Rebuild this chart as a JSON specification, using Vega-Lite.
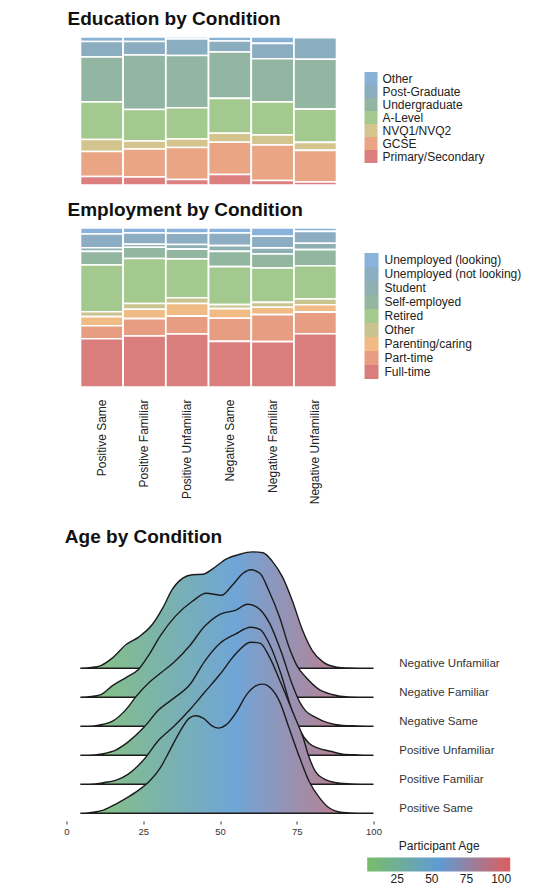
{
  "$schema": "https://vega.github.io/schema/vega-lite/v6.json",
  "background": "white",
  "padding": {"left": 63.5, "top": 10, "right": 0, "bottom": 0},
  "config": {
    "view": {"stroke": null},
    "font": "Liberation Sans",
    "title": {"color": "#111111", "fontWeight": "bold", "fontSize": 19, "anchor": "start"}
  },
  "resolve": {"scale": {"color": "independent"}, "legend": {"color": "independent"}},
  "spacing": 24,
  "vconcat": [
    {
      "spacing": 15,
      "resolve": {"scale": {"color": "independent"}, "legend": {"color": "independent"}},
      "vconcat": [
        {
          "title": {"text": "Education by Condition", "offset": 7, "dx": 1},
          "width": 270,
          "height": 148,
          "data": {"values": [
            {"condition": "Positive Same", "level": "Other", "pct": 3.0},
            {"condition": "Positive Same", "level": "Post-Graduate", "pct": 10.5},
            {"condition": "Positive Same", "level": "Undergraduate", "pct": 30.4},
            {"condition": "Positive Same", "level": "A-Level", "pct": 25.3},
            {"condition": "Positive Same", "level": "NVQ1/NVQ2", "pct": 8.1},
            {"condition": "Positive Same", "level": "GCSE", "pct": 16.9},
            {"condition": "Positive Same", "level": "Primary/Secondary", "pct": 5.7},
            {"condition": "Positive Familiar", "level": "Other", "pct": 3.0},
            {"condition": "Positive Familiar", "level": "Post-Graduate", "pct": 9.1},
            {"condition": "Positive Familiar", "level": "Undergraduate", "pct": 36.8},
            {"condition": "Positive Familiar", "level": "A-Level", "pct": 21.3},
            {"condition": "Positive Familiar", "level": "NVQ1/NVQ2", "pct": 5.4},
            {"condition": "Positive Familiar", "level": "GCSE", "pct": 18.9},
            {"condition": "Positive Familiar", "level": "Primary/Secondary", "pct": 5.4},
            {"condition": "Positive Unfamiliar", "level": "Other", "pct": 1.4},
            {"condition": "Positive Unfamiliar", "level": "Post-Graduate", "pct": 11.1},
            {"condition": "Positive Unfamiliar", "level": "Undergraduate", "pct": 35.3},
            {"condition": "Positive Unfamiliar", "level": "A-Level", "pct": 21.1},
            {"condition": "Positive Unfamiliar", "level": "NVQ1/NVQ2", "pct": 5.7},
            {"condition": "Positive Unfamiliar", "level": "GCSE", "pct": 21.6},
            {"condition": "Positive Unfamiliar", "level": "Primary/Secondary", "pct": 3.7},
            {"condition": "Negative Same", "level": "Other", "pct": 2.7},
            {"condition": "Negative Same", "level": "Post-Graduate", "pct": 7.4},
            {"condition": "Negative Same", "level": "Undergraduate", "pct": 31.4},
            {"condition": "Negative Same", "level": "A-Level", "pct": 23.5},
            {"condition": "Negative Same", "level": "NVQ1/NVQ2", "pct": 6.1},
            {"condition": "Negative Same", "level": "GCSE", "pct": 21.8},
            {"condition": "Negative Same", "level": "Primary/Secondary", "pct": 7.1},
            {"condition": "Negative Familiar", "level": "Other", "pct": 4.3},
            {"condition": "Negative Familiar", "level": "Post-Graduate", "pct": 10.4},
            {"condition": "Negative Familiar", "level": "Undergraduate", "pct": 29.1},
            {"condition": "Negative Familiar", "level": "A-Level", "pct": 22.4},
            {"condition": "Negative Familiar", "level": "NVQ1/NVQ2", "pct": 6.6},
            {"condition": "Negative Familiar", "level": "GCSE", "pct": 24.1},
            {"condition": "Negative Familiar", "level": "Primary/Secondary", "pct": 3.0},
            {"condition": "Negative Unfamiliar", "level": "Other", "pct": 0.5},
            {"condition": "Negative Unfamiliar", "level": "Post-Graduate", "pct": 14.5},
            {"condition": "Negative Unfamiliar", "level": "Undergraduate", "pct": 33.6},
            {"condition": "Negative Unfamiliar", "level": "A-Level", "pct": 22.4},
            {"condition": "Negative Unfamiliar", "level": "NVQ1/NVQ2", "pct": 5.4},
            {"condition": "Negative Unfamiliar", "level": "GCSE", "pct": 21.3},
            {"condition": "Negative Unfamiliar", "level": "Primary/Secondary", "pct": 2.0}
          ]},
          "transform": [
            {"calculate": "indexof(['Primary/Secondary','GCSE','NVQ1/NVQ2','A-Level','Undergraduate','Post-Graduate','Other'], datum.level)", "as": "ord"}
          ],
          "mark": {"type": "bar", "stroke": "white", "strokeWidth": 1.6},
          "encoding": {
            "x": {"field": "condition", "type": "nominal",
                  "sort": ["Positive Same", "Positive Familiar", "Positive Unfamiliar", "Negative Same", "Negative Familiar", "Negative Unfamiliar"],
                  "axis": null,
                  "scale": {"paddingInner": 0.005, "paddingOuter": 0.164, "align": 1}},
            "y": {"field": "pct", "type": "quantitative", "stack": "normalize", "axis": null},
            "order": {"field": "ord", "type": "quantitative"},
            "color": {"field": "level", "type": "nominal",
                      "scale": {"domain": ["Other", "Post-Graduate", "Undergraduate", "A-Level", "NVQ1/NVQ2", "GCSE", "Primary/Secondary"],
                                "range": ["#89b1d6", "#8badc0", "#93b6a3", "#a4c98f", "#d4c48d", "#eaa584", "#dd7f7f"]},
                      "legend": {"title": null, "orient": "none", "legendX": 298, "legendY": 35, "symbolType": "square", "symbolSize": 169, "symbolStrokeWidth": 0, "symbolOpacity": 1, "rowPadding": 0, "labelFontSize": 12, "labelColor": "#222222", "labelOffset": 5}}
          }
        },
        {
          "title": {"text": "Employment by Condition", "offset": 7, "dx": 1},
          "width": 270,
          "height": 159,
          "data": {"values": [
            {"condition": "Positive Same", "status": "Unemployed (looking)", "pct": 3.8},
            {"condition": "Positive Same", "status": "Unemployed (not looking)", "pct": 8.6},
            {"condition": "Positive Same", "status": "Student", "pct": 2.3},
            {"condition": "Positive Same", "status": "Self-employed", "pct": 8.6},
            {"condition": "Positive Same", "status": "Retired", "pct": 29.4},
            {"condition": "Positive Same", "status": "Other", "pct": 3.1},
            {"condition": "Positive Same", "status": "Parenting/caring", "pct": 5.7},
            {"condition": "Positive Same", "status": "Part-time", "pct": 8.2},
            {"condition": "Positive Same", "status": "Full-time", "pct": 30.4},
            {"condition": "Positive Familiar", "status": "Unemployed (looking)", "pct": 3.1},
            {"condition": "Positive Familiar", "status": "Unemployed (not looking)", "pct": 7.1},
            {"condition": "Positive Familiar", "status": "Student", "pct": 1.9},
            {"condition": "Positive Familiar", "status": "Self-employed", "pct": 7.1},
            {"condition": "Positive Familiar", "status": "Retired", "pct": 28.3},
            {"condition": "Positive Familiar", "status": "Other", "pct": 3.6},
            {"condition": "Positive Familiar", "status": "Parenting/caring", "pct": 5.9},
            {"condition": "Positive Familiar", "status": "Part-time", "pct": 10.9},
            {"condition": "Positive Familiar", "status": "Full-time", "pct": 32.1},
            {"condition": "Positive Unfamiliar", "status": "Unemployed (looking)", "pct": 3.3},
            {"condition": "Positive Unfamiliar", "status": "Unemployed (not looking)", "pct": 7.1},
            {"condition": "Positive Unfamiliar", "status": "Student", "pct": 2.9},
            {"condition": "Positive Unfamiliar", "status": "Self-employed", "pct": 6.1},
            {"condition": "Positive Unfamiliar", "status": "Retired", "pct": 24.5},
            {"condition": "Positive Unfamiliar", "status": "Other", "pct": 3.6},
            {"condition": "Positive Unfamiliar", "status": "Parenting/caring", "pct": 7.9},
            {"condition": "Positive Unfamiliar", "status": "Part-time", "pct": 11.3},
            {"condition": "Positive Unfamiliar", "status": "Full-time", "pct": 33.3},
            {"condition": "Negative Same", "status": "Unemployed (looking)", "pct": 3.1},
            {"condition": "Negative Same", "status": "Unemployed (not looking)", "pct": 8.0},
            {"condition": "Negative Same", "status": "Student", "pct": 3.6},
            {"condition": "Negative Same", "status": "Self-employed", "pct": 9.6},
            {"condition": "Negative Same", "status": "Retired", "pct": 23.9},
            {"condition": "Negative Same", "status": "Other", "pct": 2.5},
            {"condition": "Negative Same", "status": "Parenting/caring", "pct": 6.1},
            {"condition": "Negative Same", "status": "Part-time", "pct": 14.5},
            {"condition": "Negative Same", "status": "Full-time", "pct": 28.7},
            {"condition": "Negative Familiar", "status": "Unemployed (looking)", "pct": 5.2},
            {"condition": "Negative Familiar", "status": "Unemployed (not looking)", "pct": 7.3},
            {"condition": "Negative Familiar", "status": "Student", "pct": 3.8},
            {"condition": "Negative Familiar", "status": "Self-employed", "pct": 8.8},
            {"condition": "Negative Familiar", "status": "Retired", "pct": 21.6},
            {"condition": "Negative Familiar", "status": "Other", "pct": 3.1},
            {"condition": "Negative Familiar", "status": "Parenting/caring", "pct": 4.6},
            {"condition": "Negative Familiar", "status": "Part-time", "pct": 17.0},
            {"condition": "Negative Familiar", "status": "Full-time", "pct": 28.5},
            {"condition": "Negative Unfamiliar", "status": "Unemployed (looking)", "pct": 2.1},
            {"condition": "Negative Unfamiliar", "status": "Unemployed (not looking)", "pct": 7.5},
            {"condition": "Negative Unfamiliar", "status": "Student", "pct": 4.0},
            {"condition": "Negative Unfamiliar", "status": "Self-employed", "pct": 10.1},
            {"condition": "Negative Unfamiliar", "status": "Retired", "pct": 21.0},
            {"condition": "Negative Unfamiliar", "status": "Other", "pct": 3.6},
            {"condition": "Negative Unfamiliar", "status": "Parenting/caring", "pct": 4.6},
            {"condition": "Negative Unfamiliar", "status": "Part-time", "pct": 13.6},
            {"condition": "Negative Unfamiliar", "status": "Full-time", "pct": 33.5}
          ]},
          "transform": [
            {"calculate": "indexof(['Full-time','Part-time','Parenting/caring','Other','Retired','Self-employed','Student','Unemployed (not looking)','Unemployed (looking)'], datum.status)", "as": "ord"}
          ],
          "mark": {"type": "bar", "stroke": "white", "strokeWidth": 1.6},
          "encoding": {
            "x": {"field": "condition", "type": "nominal",
                  "sort": ["Positive Same", "Positive Familiar", "Positive Unfamiliar", "Negative Same", "Negative Familiar", "Negative Unfamiliar"],
                  "scale": {"paddingInner": 0.005, "paddingOuter": 0.164, "align": 1},
                  "axis": {"title": null, "labelAngle": -90, "labelFontSize": 12, "labelColor": "#222222", "ticks": false, "domain": false, "labelPadding": 12}},
            "y": {"field": "pct", "type": "quantitative", "stack": "normalize", "axis": null},
            "order": {"field": "ord", "type": "quantitative"},
            "color": {"field": "status", "type": "nominal",
                      "scale": {"domain": ["Unemployed (looking)", "Unemployed (not looking)", "Student", "Self-employed", "Retired", "Other", "Parenting/caring", "Part-time", "Full-time"],
                                "range": ["#89b3da", "#8cadc2", "#8eb0b2", "#93b6a0", "#a3c98e", "#c9c38f", "#f1bb85", "#e79d82", "#da7e7d"]},
                      "legend": {"title": null, "orient": "none", "legendX": 298, "legendY": 25, "symbolType": "square", "symbolSize": 196, "symbolStrokeWidth": 0, "symbolOpacity": 1, "rowPadding": 0, "labelFontSize": 12, "labelColor": "#222222", "labelOffset": 6}}
          }
        }
      ]
    },
    {
      "title": {"text": "Age by Condition", "offset": 2, "dx": 1},
      "bounds": "flush",
      "data": {"values": [
        {"condition": "Negative Unfamiliar", "age": 4.5, "density": 0},
        {"condition": "Negative Unfamiliar", "age": 8, "density": 0.0002},
        {"condition": "Negative Unfamiliar", "age": 11, "density": 0.0006},
        {"condition": "Negative Unfamiliar", "age": 15, "density": 0.0026},
        {"condition": "Negative Unfamiliar", "age": 19.5, "density": 0.006},
        {"condition": "Negative Unfamiliar", "age": 23.5, "density": 0.0078},
        {"condition": "Negative Unfamiliar", "age": 28, "density": 0.011},
        {"condition": "Negative Unfamiliar", "age": 31.5, "density": 0.0153},
        {"condition": "Negative Unfamiliar", "age": 34.5, "density": 0.0198},
        {"condition": "Negative Unfamiliar", "age": 38, "density": 0.0226},
        {"condition": "Negative Unfamiliar", "age": 41, "density": 0.0234},
        {"condition": "Negative Unfamiliar", "age": 44.5, "density": 0.0235},
        {"condition": "Negative Unfamiliar", "age": 47.5, "density": 0.0248},
        {"condition": "Negative Unfamiliar", "age": 52, "density": 0.0273},
        {"condition": "Negative Unfamiliar", "age": 56, "density": 0.0284},
        {"condition": "Negative Unfamiliar", "age": 60.5, "density": 0.0291},
        {"condition": "Negative Unfamiliar", "age": 64, "density": 0.0289},
        {"condition": "Negative Unfamiliar", "age": 67, "density": 0.0268},
        {"condition": "Negative Unfamiliar", "age": 70.5, "density": 0.0226},
        {"condition": "Negative Unfamiliar", "age": 73.5, "density": 0.017},
        {"condition": "Negative Unfamiliar", "age": 77, "density": 0.0093},
        {"condition": "Negative Unfamiliar", "age": 80, "density": 0.0045},
        {"condition": "Negative Unfamiliar", "age": 83.5, "density": 0.0016},
        {"condition": "Negative Unfamiliar", "age": 88, "density": 0.0003},
        {"condition": "Negative Unfamiliar", "age": 92, "density": 0.0001},
        {"condition": "Negative Unfamiliar", "age": 100, "density": 0},
        {"condition": "Negative Familiar", "age": 4.5, "density": 0},
        {"condition": "Negative Familiar", "age": 8, "density": 0.0002},
        {"condition": "Negative Familiar", "age": 11, "density": 0.0006},
        {"condition": "Negative Familiar", "age": 15, "density": 0.0029},
        {"condition": "Negative Familiar", "age": 19.5, "density": 0.005},
        {"condition": "Negative Familiar", "age": 23.5, "density": 0.007},
        {"condition": "Negative Familiar", "age": 27, "density": 0.0108},
        {"condition": "Negative Familiar", "age": 30.5, "density": 0.0153},
        {"condition": "Negative Familiar", "age": 35.5, "density": 0.0203},
        {"condition": "Negative Familiar", "age": 41, "density": 0.024},
        {"condition": "Negative Familiar", "age": 45.5, "density": 0.026},
        {"condition": "Negative Familiar", "age": 50.5, "density": 0.0255},
        {"condition": "Negative Familiar", "age": 54, "density": 0.028},
        {"condition": "Negative Familiar", "age": 57.5, "density": 0.031},
        {"condition": "Negative Familiar", "age": 60, "density": 0.0319},
        {"condition": "Negative Familiar", "age": 63, "density": 0.031},
        {"condition": "Negative Familiar", "age": 66, "density": 0.0265},
        {"condition": "Negative Familiar", "age": 69.5, "density": 0.0198},
        {"condition": "Negative Familiar", "age": 72.5, "density": 0.0125},
        {"condition": "Negative Familiar", "age": 75, "density": 0.008},
        {"condition": "Negative Familiar", "age": 78, "density": 0.005},
        {"condition": "Negative Familiar", "age": 82, "density": 0.0021},
        {"condition": "Negative Familiar", "age": 86.5, "density": 0.0007},
        {"condition": "Negative Familiar", "age": 92, "density": 0.0001},
        {"condition": "Negative Familiar", "age": 100, "density": 0},
        {"condition": "Negative Same", "age": 4.5, "density": 0},
        {"condition": "Negative Same", "age": 9, "density": 0.0001},
        {"condition": "Negative Same", "age": 12, "density": 0.0005},
        {"condition": "Negative Same", "age": 15, "density": 0.0013},
        {"condition": "Negative Same", "age": 19.5, "density": 0.0043},
        {"condition": "Negative Same", "age": 22.5, "density": 0.0073},
        {"condition": "Negative Same", "age": 27, "density": 0.011},
        {"condition": "Negative Same", "age": 31, "density": 0.0135},
        {"condition": "Negative Same", "age": 35, "density": 0.016},
        {"condition": "Negative Same", "age": 40, "density": 0.02},
        {"condition": "Negative Same", "age": 45, "density": 0.025},
        {"condition": "Negative Same", "age": 50, "density": 0.028},
        {"condition": "Negative Same", "age": 55, "density": 0.029},
        {"condition": "Negative Same", "age": 59, "density": 0.0305},
        {"condition": "Negative Same", "age": 62, "density": 0.0298},
        {"condition": "Negative Same", "age": 66, "density": 0.026},
        {"condition": "Negative Same", "age": 70, "density": 0.0185},
        {"condition": "Negative Same", "age": 73.5, "density": 0.0105},
        {"condition": "Negative Same", "age": 76, "density": 0.006},
        {"condition": "Negative Same", "age": 78, "density": 0.0038},
        {"condition": "Negative Same", "age": 81, "density": 0.0023},
        {"condition": "Negative Same", "age": 85, "density": 0.0009},
        {"condition": "Negative Same", "age": 90, "density": 0.0002},
        {"condition": "Negative Same", "age": 95, "density": 0.0001},
        {"condition": "Negative Same", "age": 100, "density": 0},
        {"condition": "Positive Unfamiliar", "age": 4.5, "density": 0},
        {"condition": "Positive Unfamiliar", "age": 9, "density": 0.0001},
        {"condition": "Positive Unfamiliar", "age": 12, "density": 0.0004},
        {"condition": "Positive Unfamiliar", "age": 16, "density": 0.0013},
        {"condition": "Positive Unfamiliar", "age": 20, "density": 0.0033},
        {"condition": "Positive Unfamiliar", "age": 25, "density": 0.0068},
        {"condition": "Positive Unfamiliar", "age": 30, "density": 0.0113},
        {"condition": "Positive Unfamiliar", "age": 35, "density": 0.0143},
        {"condition": "Positive Unfamiliar", "age": 40, "density": 0.0175},
        {"condition": "Positive Unfamiliar", "age": 45, "density": 0.0235},
        {"condition": "Positive Unfamiliar", "age": 50, "density": 0.028},
        {"condition": "Positive Unfamiliar", "age": 55, "density": 0.0303},
        {"condition": "Positive Unfamiliar", "age": 60, "density": 0.032},
        {"condition": "Positive Unfamiliar", "age": 63, "density": 0.0315},
        {"condition": "Positive Unfamiliar", "age": 66, "density": 0.028},
        {"condition": "Positive Unfamiliar", "age": 70, "density": 0.02},
        {"condition": "Positive Unfamiliar", "age": 73.5, "density": 0.011},
        {"condition": "Positive Unfamiliar", "age": 76, "density": 0.0063},
        {"condition": "Positive Unfamiliar", "age": 79, "density": 0.003},
        {"condition": "Positive Unfamiliar", "age": 82, "density": 0.0018},
        {"condition": "Positive Unfamiliar", "age": 86, "density": 0.001},
        {"condition": "Positive Unfamiliar", "age": 90, "density": 0.0003},
        {"condition": "Positive Unfamiliar", "age": 95, "density": 0.0001},
        {"condition": "Positive Unfamiliar", "age": 100, "density": 0},
        {"condition": "Positive Familiar", "age": 4.5, "density": 0},
        {"condition": "Positive Familiar", "age": 9, "density": 0.0001},
        {"condition": "Positive Familiar", "age": 12, "density": 0.0004},
        {"condition": "Positive Familiar", "age": 16, "density": 0.001},
        {"condition": "Positive Familiar", "age": 20, "density": 0.0025},
        {"condition": "Positive Familiar", "age": 25, "density": 0.006},
        {"condition": "Positive Familiar", "age": 30, "density": 0.011},
        {"condition": "Positive Familiar", "age": 35, "density": 0.0145},
        {"condition": "Positive Familiar", "age": 40, "density": 0.0185},
        {"condition": "Positive Familiar", "age": 45, "density": 0.023},
        {"condition": "Positive Familiar", "age": 50, "density": 0.0275},
        {"condition": "Positive Familiar", "age": 55, "density": 0.0325},
        {"condition": "Positive Familiar", "age": 60, "density": 0.0355},
        {"condition": "Positive Familiar", "age": 63, "density": 0.0353},
        {"condition": "Positive Familiar", "age": 66, "density": 0.032},
        {"condition": "Positive Familiar", "age": 70, "density": 0.025},
        {"condition": "Positive Familiar", "age": 74, "density": 0.0175},
        {"condition": "Positive Familiar", "age": 77, "density": 0.0118},
        {"condition": "Positive Familiar", "age": 79, "density": 0.0068},
        {"condition": "Positive Familiar", "age": 81, "density": 0.0033},
        {"condition": "Positive Familiar", "age": 84, "density": 0.0013},
        {"condition": "Positive Familiar", "age": 88, "density": 0.0004},
        {"condition": "Positive Familiar", "age": 93, "density": 0.0001},
        {"condition": "Positive Familiar", "age": 100, "density": 0},
        {"condition": "Positive Same", "age": 4.5, "density": 0},
        {"condition": "Positive Same", "age": 8.8, "density": 0.0003},
        {"condition": "Positive Same", "age": 12, "density": 0.0008},
        {"condition": "Positive Same", "age": 16.5, "density": 0.0025},
        {"condition": "Positive Same", "age": 19.5, "density": 0.0038},
        {"condition": "Positive Same", "age": 23.5, "density": 0.0058},
        {"condition": "Positive Same", "age": 27, "density": 0.008},
        {"condition": "Positive Same", "age": 30.5, "density": 0.0113},
        {"condition": "Positive Same", "age": 33.5, "density": 0.0155},
        {"condition": "Positive Same", "age": 37, "density": 0.0205},
        {"condition": "Positive Same", "age": 40, "density": 0.0238},
        {"condition": "Positive Same", "age": 42, "density": 0.0244},
        {"condition": "Positive Same", "age": 44.5, "density": 0.0238},
        {"condition": "Positive Same", "age": 47.5, "density": 0.0218},
        {"condition": "Positive Same", "age": 49.5, "density": 0.0213},
        {"condition": "Positive Same", "age": 52, "density": 0.0221},
        {"condition": "Positive Same", "age": 55.5, "density": 0.0255},
        {"condition": "Positive Same", "age": 58.5, "density": 0.0295},
        {"condition": "Positive Same", "age": 62, "density": 0.032},
        {"condition": "Positive Same", "age": 64, "density": 0.0323},
        {"condition": "Positive Same", "age": 66.5, "density": 0.0313},
        {"condition": "Positive Same", "age": 69.5, "density": 0.0278},
        {"condition": "Positive Same", "age": 72.5, "density": 0.0213},
        {"condition": "Positive Same", "age": 76, "density": 0.0138},
        {"condition": "Positive Same", "age": 79, "density": 0.008},
        {"condition": "Positive Same", "age": 82.5, "density": 0.0038},
        {"condition": "Positive Same", "age": 85.5, "density": 0.0014},
        {"condition": "Positive Same", "age": 90, "density": 0.0002},
        {"condition": "Positive Same", "age": 95, "density": 0},
        {"condition": "Positive Same", "age": 100, "density": 0},
        {"condition": "Negative Unfamiliar", "rug": 18.5}, {"condition": "Negative Unfamiliar", "rug": 19.6}, {"condition": "Negative Unfamiliar", "rug": 20.4},
        {"condition": "Negative Unfamiliar", "rug": 79.3}, {"condition": "Negative Unfamiliar", "rug": 83.1},
        {"condition": "Negative Familiar", "rug": 18.2}, {"condition": "Negative Familiar", "rug": 19.4}, {"condition": "Negative Familiar", "rug": 20.8},
        {"condition": "Negative Familiar", "rug": 78.6}, {"condition": "Negative Familiar", "rug": 80.2}, {"condition": "Negative Familiar", "rug": 85.7},
        {"condition": "Negative Same", "rug": 19.1}, {"condition": "Negative Same", "rug": 20.3}, {"condition": "Negative Same", "rug": 21.6},
        {"condition": "Negative Same", "rug": 78.9}, {"condition": "Negative Same", "rug": 81.4}, {"condition": "Negative Same", "rug": 84.2},
        {"condition": "Positive Unfamiliar", "rug": 17.8}, {"condition": "Positive Unfamiliar", "rug": 19.9}, {"condition": "Positive Unfamiliar", "rug": 21.2},
        {"condition": "Positive Unfamiliar", "rug": 79.6}, {"condition": "Positive Unfamiliar", "rug": 81.9}, {"condition": "Positive Unfamiliar", "rug": 89.1},
        {"condition": "Positive Familiar", "rug": 18.6}, {"condition": "Positive Familiar", "rug": 20.1}, {"condition": "Positive Familiar", "rug": 22.4},
        {"condition": "Positive Familiar", "rug": 80.4}, {"condition": "Positive Familiar", "rug": 82.7}, {"condition": "Positive Familiar", "rug": 86.3},
        {"condition": "Positive Same", "rug": 17.9}, {"condition": "Positive Same", "rug": 19.2}, {"condition": "Positive Same", "rug": 21.5},
        {"condition": "Positive Same", "rug": 24.1}, {"condition": "Positive Same", "rug": 26.3}, {"condition": "Positive Same", "rug": 28.4},
        {"condition": "Positive Same", "rug": 29.7}, {"condition": "Positive Same", "rug": 31.2}, {"condition": "Positive Same", "rug": 32.6},
        {"condition": "Positive Same", "rug": 33.8}, {"condition": "Positive Same", "rug": 35.1}, {"condition": "Positive Same", "rug": 36.4},
        {"condition": "Positive Same", "rug": 37.3}, {"condition": "Positive Same", "rug": 38.6}, {"condition": "Positive Same", "rug": 39.8},
        {"condition": "Positive Same", "rug": 40.9}, {"condition": "Positive Same", "rug": 41.7}, {"condition": "Positive Same", "rug": 42.8},
        {"condition": "Positive Same", "rug": 44.2}, {"condition": "Positive Same", "rug": 45.6}, {"condition": "Positive Same", "rug": 47.3},
        {"condition": "Positive Same", "rug": 49.8}, {"condition": "Positive Same", "rug": 51.4}, {"condition": "Positive Same", "rug": 52.6},
        {"condition": "Positive Same", "rug": 53.9}, {"condition": "Positive Same", "rug": 55.2}, {"condition": "Positive Same", "rug": 56.1},
        {"condition": "Positive Same", "rug": 57.4}, {"condition": "Positive Same", "rug": 58.3}, {"condition": "Positive Same", "rug": 59.2},
        {"condition": "Positive Same", "rug": 60.4}, {"condition": "Positive Same", "rug": 61.3}, {"condition": "Positive Same", "rug": 62.1},
        {"condition": "Positive Same", "rug": 62.9}, {"condition": "Positive Same", "rug": 63.8}, {"condition": "Positive Same", "rug": 64.6},
        {"condition": "Positive Same", "rug": 65.5}, {"condition": "Positive Same", "rug": 66.4}, {"condition": "Positive Same", "rug": 67.6},
        {"condition": "Positive Same", "rug": 68.7}, {"condition": "Positive Same", "rug": 69.9}, {"condition": "Positive Same", "rug": 71.2},
        {"condition": "Positive Same", "rug": 72.6}, {"condition": "Positive Same", "rug": 74.1}, {"condition": "Positive Same", "rug": 75.8},
        {"condition": "Positive Same", "rug": 77.4}, {"condition": "Positive Same", "rug": 78.9}
      ]},
      "spacing": 0,
      "facet": {
        "row": {
          "field": "condition", "type": "nominal",
          "sort": ["Negative Unfamiliar", "Negative Familiar", "Negative Same", "Positive Unfamiliar", "Positive Familiar", "Positive Same"],
          "title": null,
          "header": {"labels": false}
        }
      },
      "spec": {
        "width": 307,
        "height": 28.8,
        "encoding": {
          "x": {"field": "age", "type": "quantitative",
                "scale": {"domain": [0, 100], "nice": false, "zero": false},
                "axis": {"title": null, "values": [0, 25, 50, 75, 100], "domain": false, "grid": false, "ticks": true, "tickSize": 3, "tickColor": "#333333", "labelFontSize": 9.5, "labelColor": "#333333", "labelPadding": 2, "labelFlush": false, "offset": -3}},
          "y": {"field": "density", "type": "quantitative",
                "scale": {"domain": [0, 0.04], "range": [18.3, -141.7]},
                "axis": null}
        },
        "layer": [
          {
            "transform": [{"filter": "isValid(datum.density)"}],
            "mark": {"type": "area", "interpolate": "monotone", "clip": false,
                     "fill": {"gradient": "linear", "x1": 0, "y1": 0, "x2": 1, "y2": 0,
                              "stops": [{"offset": 0, "color": "#88c37b"}, {"offset": 0.529, "color": "#6fa5d7"}, {"offset": 1, "color": "#d4747a"}]},
                     "stroke": "#1c1c1c", "strokeWidth": 1.4}
          },
          {
            "transform": [{"filter": "isValid(datum.rug)"}],
            "mark": {"type": "rule", "color": "#444444", "strokeWidth": 0.7, "opacity": 0.8, "clip": false},
            "encoding": {
              "x": {"field": "rug", "type": "quantitative"},
              "y": {"datum": -0.0003},
              "y2": {"datum": -0.0013}
            }
          },
          {
            "transform": [{"filter": "datum.age == 100"}],
            "mark": {"type": "text", "align": "left", "baseline": "middle", "dy": -4, "fontSize": 11.5, "color": "#333333", "clip": false},
            "encoding": {
              "x": {"datum": 108.4},
              "y": {"datum": 0},
              "text": {"field": "condition", "type": "nominal"}
            }
          },
          {
            "transform": [{"filter": "isValid(datum.density)"}],
            "mark": {"type": "point", "size": 0, "filled": true, "opacity": 1, "clip": false},
            "encoding": {
              "color": {"field": "age", "type": "quantitative",
                        "scale": {"domain": [3.4, 54.95, 106.5], "range": ["#7bbd6a", "#5f9bd3", "#de5d5d"], "interpolate": "rgb"},
                        "legend": {"title": "Participant Age", "orient": "none", "legendX": 300.7, "legendY": 190.5, "direction": "horizontal",
                                   "gradientLength": 143, "gradientThickness": 14, "gradientStrokeWidth": 0,
                                   "titleAnchor": "middle", "titleFontSize": 12, "titleFontWeight": "normal", "titleColor": "#222222", "titlePadding": 5,
                                   "labelFontSize": 12, "labelColor": "#222222", "values": [25, 50, 75, 100], "labelOverlap": false}}
            }
          }
        ]
      }
    }
  ]
}
